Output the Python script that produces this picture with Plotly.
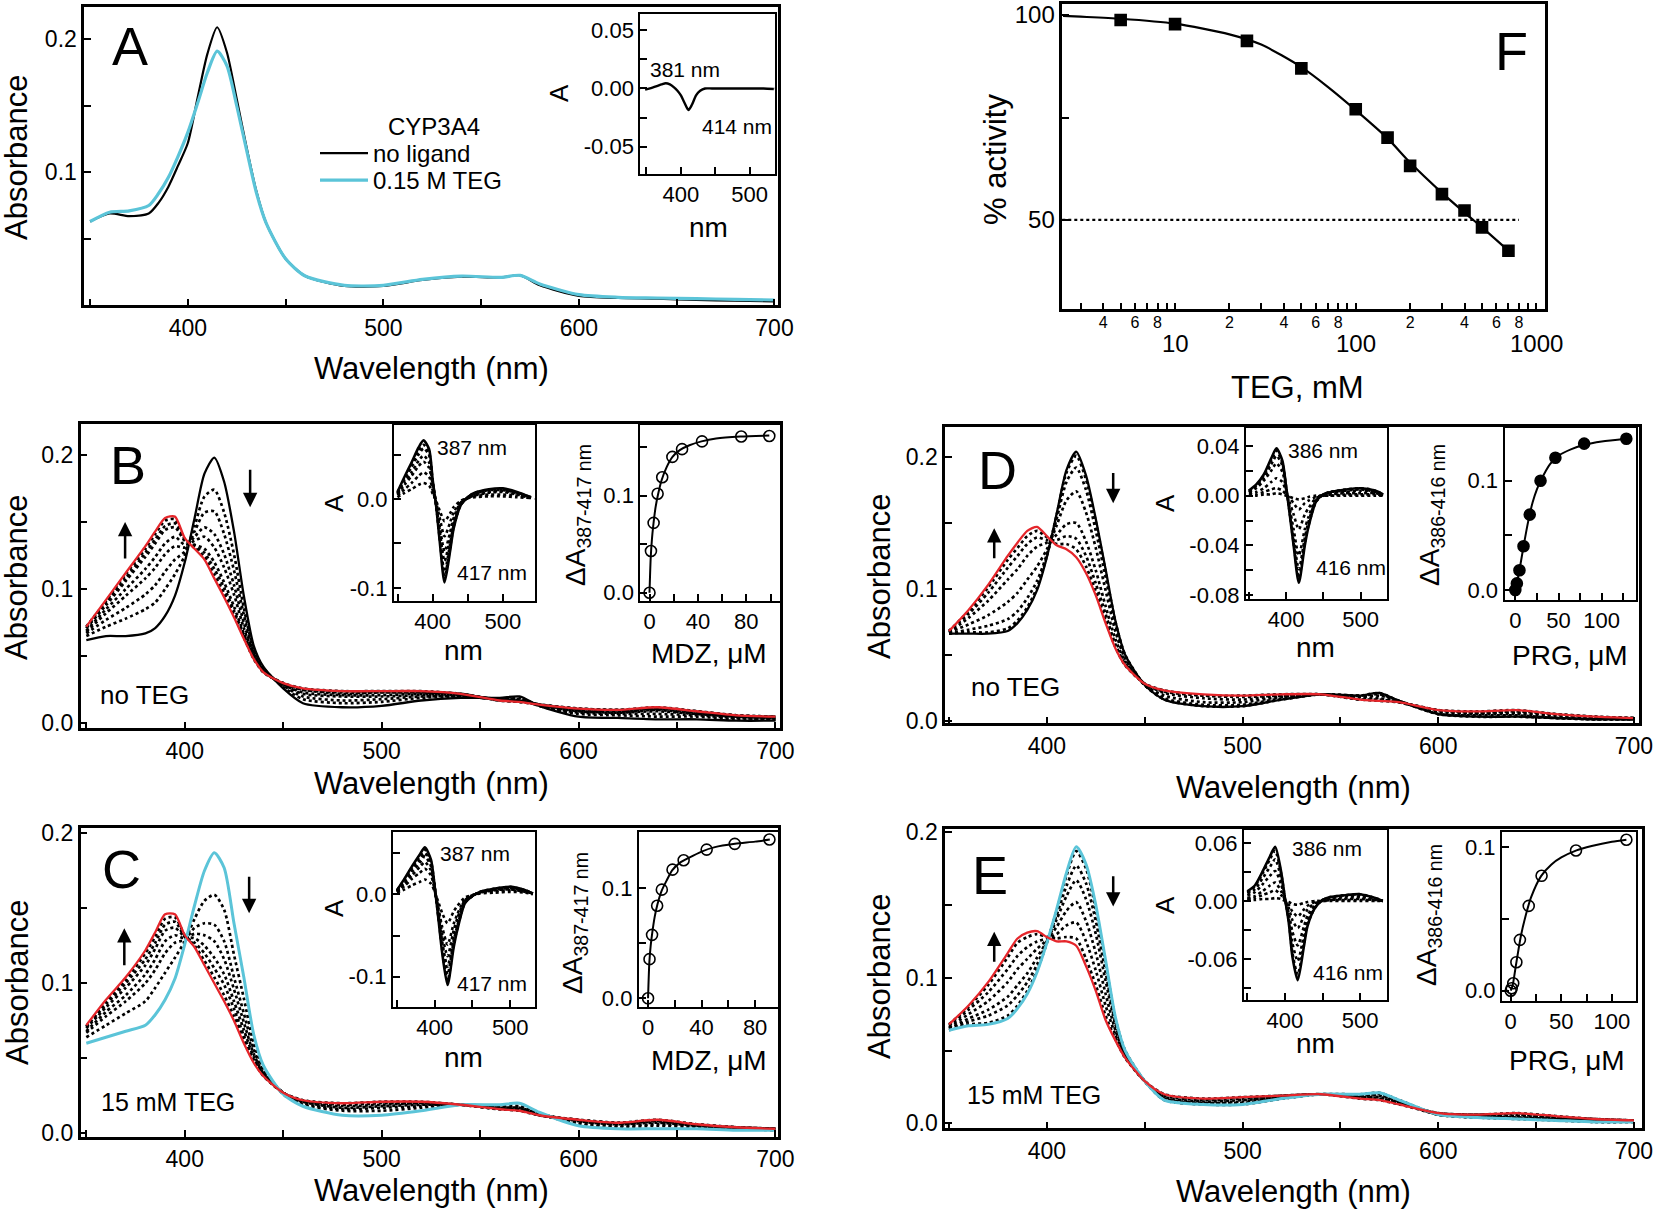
import math
import plotly.graph_objects as go

W, H = 1656, 1215
FONT = "Liberation Sans, Arial, Helvetica, sans-serif"
CYAN = "#5bc4d8"
RED = "#e5262b"

# ---------------- data: wavelength grid for the absolute spectra ----------------
WL = [350, 360, 370, 380, 385, 390, 395, 400, 405, 410, 415, 420, 425, 430, 435, 440,
      450, 460, 480, 500, 520, 540, 560, 570, 580, 600, 620, 640, 660, 680, 700]

# Panel A
A_no_ligand = [.063, .069, .067, .069, .077, .089, .105, .122, .156, .189, .209, .190, .155, .119, .086, .062,
               .035, .022, .0145, .0145, .019, .0215, .021, .0225, .015, .007, .0055, .005, .004, .0035, .003]
A_teg = [.063, .070, .071, .075, .084, .096, .112, .130, .152, .175, .191, .180, .150, .117, .085, .062,
         .035, .022, .015, .015, .0195, .022, .021, .0225, .016, .008, .006, .0055, .005, .0045, .004]
A_inset_wl = [348, 355, 365, 372, 378, 384, 390, 395, 400, 405, 411, 416, 422, 428, 435, 445, 460, 480, 500, 520, 535]
A_inset_dA = [-.001, .000, .002, .0035, .0045, .0035, .001, -.002, -.006, -.012, -.0185, -.014, -.006, -.002,
              .000, .000, .000, .000, .000, .000, -.0005]

# Panel B (no TEG, MDZ titration)
B_start = [.062, .065, .065, .067, .071, .080, .095, .120, .153, .186, .198, .180, .143, .095, .058, .042,
           .026, .015, .012, .013, .017, .019, .019, .020, .013, .005, .004, .003, .003, .002, .002]
B_end = [.072, .092, .112, .132, .143, .153, .154, .138, .130, .122, .108, .094, .079, .063, .048, .038,
         .030, .026, .024, .024, .024, .022, .017, .016, .014, .011, .010, .012, .009, .006, .005]
B_steps = [
    [.065, .072, .078, .085, .090, .100, .111, .125, .147, .169, .174, .157, .126, .086, .055, .041, .027, .018, .015, .016, .019, .020, .018, .019, .013, .007, .006, .005, .005, .003, .003],
    [.067, .077, .086, .096, .103, .113, .122, .128, .143, .157, .158, .141, .114, .081, .054, .040, .028, .020, .017, .018, .020, .020, .018, .018, .013, .008, .007, .007, .006, .004, .003],
    [.068, .082, .095, .108, .116, .126, .132, .131, .139, .146, .141, .126, .103, .075, .052, .039, .029, .022, .020, .020, .021, .021, .018, .017, .014, .009, .008, .009, .007, .005, .004],
    [.069, .085, .100, .115, .124, .134, .139, .133, .136, .139, .131, .116, .096, .071, .051, .039, .029, .023, .021, .021, .022, .021, .018, .017, .014, .009, .008, .010, .007, .005, .004],
    [.071, .088, .106, .124, .134, .144, .146, .136, .133, .130, .120, .105, .087, .067, .049, .039, .029, .025, .022, .023, .023, .022, .017, .017, .014, .010, .009, .011, .008, .005, .005],
    [.071, .090, .108, .127, .137, .147, .149, .137, .132, .127, .115, .101, .084, .066, .049, .038, .030, .025, .023, .023, .023, .022, .017, .016, .014, .011, .010, .011, .009, .006, .005],
    [.072, .091, .111, .130, .141, .151, .152, .137, .131, .124, .111, .097, .081, .064, .048, .038, .030, .026, .024, .024, .024, .022, .017, .016, .014, .011, .010, .012, .009, .006, .005],
]
B_inset_wl = [350, 360, 370, 380, 387, 395, 400, 405, 410, 417, 425, 430, 440, 450, 460, 480, 500, 520, 540]
B_inset_final = [.008, .025, .041, .058, .066, .056, .022, -.008, -.047, -.094, -.058, -.033, -.007, .002, .007, .011, .012, .008, .002]
B_inset_steps = [
    [.002, .007, .011, .016, .018, .015, .006, -.002, -.013, -.025, -.016, -.009, -.002, .001, .002, .003, .003, .002, .001],
    [.004, .011, .018, .026, .030, .025, .010, -.004, -.021, -.042, -.026, -.015, -.003, .001, .003, .005, .005, .004, .001],
    [.005, .016, .026, .037, .042, .035, .014, -.005, -.030, -.059, -.037, -.021, -.004, .001, .004, .007, .008, .005, .001],
    [.006, .019, .030, .043, .049, .041, .016, -.006, -.035, -.070, -.043, -.024, -.005, .001, .005, .008, .009, .006, .001],
    [.007, .022, .036, .050, .057, .049, .019, -.007, -.041, -.082, -.050, -.029, -.006, .002, .006, .010, .010, .007, .002],
    [.007, .023, .038, .054, .061, .052, .020, -.007, -.044, -.087, -.054, -.031, -.007, .002, .007, .010, .011, .007, .002],
]
B_conc = [0, 1.2, 3.4, 6.7, 10.5, 18.9, 26.9, 43.4, 75.8, 99]
B_dA = [0, .043, .072, .102, .119, .140, .148, .156, .161, .1615]
B_fit_x = [0, 1, 2, 3, 5, 7, 10, 14, 19, 25, 33, 43, 55, 75, 99]
B_fit_y = [0, .036, .055, .068, .088, .101, .116, .129, .140, .147, .152, .156, .159, .161, .162]

# Panel C (15 mM TEG, MDZ titration)
C_start = [.060, .064, .068, .072, .079, .089, .103, .126, .152, .175, .187, .177, .140, .104, .066, .045,
           .026, .018, .012, .012, .015, .019, .019, .020, .014, .005, .003, .003, .003, .002, .002]
C_end = [.072, .089, .104, .122, .134, .146, .146, .132, .124, .112, .100, .088, .075, .060, .047, .038,
         .027, .022, .020, .021, .021, .019, .016, .015, .012, .009, .007, .009, .006, .004, .003]
C_steps = [
    [.064, .072, .080, .088, .097, .107, .117, .128, .143, .155, .159, .149, .119, .090, .060, .043, .026, .019, .015, .015, .017, .019, .018, .018, .013, .006, .004, .005, .004, .003, .002],
    [.067, .078, .088, .100, .109, .120, .127, .129, .137, .140, .139, .128, .104, .080, .056, .041, .027, .020, .016, .017, .018, .019, .017, .017, .013, .007, .005, .006, .005, .003, .003],
    [.068, .081, .092, .106, .116, .128, .132, .130, .133, .132, .128, .116, .096, .074, .053, .040, .027, .021, .017, .018, .019, .019, .017, .017, .013, .008, .006, .007, .005, .003, .003],
    [.070, .084, .097, .112, .123, .135, .137, .131, .130, .125, .117, .106, .088, .069, .051, .039, .027, .021, .018, .019, .020, .019, .017, .016, .012, .008, .006, .008, .005, .004, .003],
    [.071, .086, .100, .116, .127, .139, .141, .131, .127, .120, .110, .099, .083, .065, .049, .039, .027, .022, .019, .020, .020, .019, .016, .016, .012, .009, .007, .008, .006, .004, .003],
    [.071, .088, .102, .120, .131, .143, .144, .132, .125, .115, .104, .092, .078, .062, .048, .038, .027, .022, .020, .021, .021, .019, .016, .015, .012, .009, .007, .009, .006, .004, .003],
]
CDE_inset_wl = [350, 360, 370, 380, 387, 395, 400, 405, 410, 417, 425, 430, 440, 450, 460, 480, 500, 520, 530]
C_inset_final = [.005, .019, .034, .048, .057, .042, .009, -.031, -.072, -.110, -.065, -.043, -.011, -.002, .003, .007, .009, .005, .001]
C_inset_steps = [
    [.002, .006, .011, .015, .018, .013, .003, -.010, -.023, -.035, -.021, -.014, -.004, -.001, .001, .002, .003, .002, .000],
    [.003, .010, .019, .026, .031, .023, .005, -.017, -.040, -.061, -.036, -.024, -.006, -.001, .002, .004, .005, .003, .001],
    [.003, .013, .023, .033, .039, .029, .006, -.021, -.049, -.075, -.044, -.029, -.007, -.001, .002, .005, .006, .003, .001],
    [.004, .015, .027, .038, .046, .034, .007, -.025, -.058, -.088, -.052, -.034, -.009, -.002, .002, .006, .007, .004, .001],
    [.004, .017, .030, .042, .050, .037, .008, -.027, -.063, -.097, -.057, -.038, -.010, -.002, .003, .006, .008, .004, .001],
    [.005, .018, .032, .046, .054, .040, .009, -.029, -.068, -.105, -.062, -.041, -.010, -.002, .003, .007, .009, .005, .001],
]
C_conc = [0, 1.1, 3.0, 6.8, 10.3, 18.3, 26.6, 43.8, 64.8, 90.7]
C_dA = [0, .0355, .0575, .0839, .0985, .1166, .1251, .1348, .140, .1439]
C_fit_x = [0, 1, 2, 3, 5, 7, 10, 14, 18, 24, 30, 40, 50, 65, 80, 91]
C_fit_y = [0, .033, .048, .058, .074, .085, .097, .107, .116, .123, .127, .133, .137, .140, .142, .1439]

# Panel D (no TEG, PRG titration)
D_start = [.066, .066, .066, .068, .074, .084, .099, .124, .157, .190, .204, .186, .153, .115, .076, .050,
           .027, .016, .011, .011, .016, .020, .019, .021, .015, .005, .003, .003, .002, .001, .001]
D_end = [.068, .084, .103, .125, .135, .144, .147, .140, .133, .130, .124, .112, .095, .074, .055, .042,
         .028, .023, .020, .019, .020, .020, .016, .015, .014, .008, .007, .008, .005, .003, .002]
D_steps = [
    [.066, .067, .067, .070, .076, .086, .101, .125, .156, .188, .201, .183, .151, .113, .075, .050, .027, .016, .011, .011, .016, .020, .019, .021, .015, .005, .003, .003, .002, .001, .001],
    [.066, .069, .072, .077, .083, .093, .106, .126, .153, .181, .192, .175, .144, .109, .073, .049, .027, .017, .012, .012, .017, .020, .019, .020, .015, .005, .004, .004, .002, .001, .001],
    [.067, .073, .080, .090, .097, .107, .117, .130, .148, .167, .174, .158, .131, .099, .068, .047, .027, .019, .014, .014, .018, .020, .018, .019, .015, .006, .005, .005, .003, .002, .001],
    [.067, .078, .091, .107, .115, .125, .132, .135, .141, .149, .150, .136, .114, .087, .062, .045, .028, .021, .017, .016, .019, .020, .017, .017, .014, .007, .006, .006, .004, .002, .002],
    [.068, .081, .097, .116, .125, .134, .139, .137, .137, .140, .138, .125, .104, .081, .058, .043, .028, .022, .019, .018, .019, .020, .016, .016, .014, .008, .006, .007, .005, .003, .002],
    [.068, .083, .101, .122, .131, .140, .144, .139, .134, .134, .130, .117, .098, .076, .056, .042, .028, .023, .019, .019, .020, .020, .016, .015, .014, .008, .007, .008, .005, .003, .002],
]
D_inset_final = [.004, .009, .017, .030, .038, .028, .007, -.016, -.040, -.070, -.040, -.025, -.005, .001, .003, .005, .006, .004, .001]
D_inset_steps = [
    [.000, .000, .001, .001, .002, .001, .000, -.001, -.002, -.003, -.002, -.001, .000, .000, .000, .000, .000, .000, .000],
    [.001, .001, .003, .005, .006, .004, .001, -.002, -.006, -.011, -.006, -.004, -.001, .000, .000, .001, .001, .001, .000],
    [.002, .003, .006, .011, .014, .011, .003, -.006, -.015, -.027, -.015, -.010, -.002, .000, .001, .002, .002, .002, .000],
    [.003, .006, .012, .020, .026, .019, .005, -.011, -.027, -.048, -.027, -.017, -.003, .001, .002, .003, .004, .003, .001],
    [.003, .008, .014, .025, .032, .024, .006, -.013, -.034, -.059, -.034, -.021, -.004, .001, .003, .004, .005, .003, .001],
    [.004, .008, .016, .028, .036, .026, .007, -.015, -.038, -.066, -.038, -.024, -.005, .001, .003, .005, .006, .004, .001],
]
D_conc = [0, 1.8, 4.8, 9.5, 16.7, 29.2, 46.4, 79.7, 128.5]
D_dA = [0, .006, .018, .040, .069, .100, .121, .134, .1385]
D_fit_x = [0, 2, 5, 10, 15, 20, 25, 30, 40, 50, 65, 80, 100, 128.5]
D_fit_y = [0, .007, .019, .042, .063, .080, .092, .101, .115, .123, .129, .133, .136, .1385]

# Panel E (15 mM TEG, PRG titration)
E_start = [.064, .067, .068, .072, .079, .089, .104, .124, .147, .172, .190, .178, .150, .112, .073, .050,
           .029, .016, .013, .013, .017, .020, .020, .021, .016, .006, .004, .003, .002, .001, .001]
E_end = [.068, .081, .097, .117, .127, .131, .132, .128, .125, .125, .122, .108, .091, .071, .057, .045,
         .029, .020, .017, .018, .019, .020, .017, .016, .013, .007, .006, .007, .005, .003, .002]
E_steps = [
    [.064, .068, .069, .074, .081, .091, .105, .124, .146, .170, .187, .175, .147, .110, .072, .050, .029, .016, .013, .013, .017, .020, .020, .021, .016, .006, .004, .003, .002, .001, .001],
    [.065, .070, .074, .081, .088, .097, .109, .125, .143, .163, .177, .165, .139, .104, .070, .049, .029, .017, .014, .014, .017, .020, .019, .020, .015, .006, .004, .004, .003, .001, .001],
    [.065, .072, .078, .087, .095, .103, .114, .125, .140, .156, .167, .154, .130, .098, .068, .048, .029, .017, .014, .015, .018, .020, .019, .019, .015, .006, .005, .004, .003, .002, .001],
    [.066, .075, .084, .097, .106, .113, .120, .126, .135, .146, .152, .139, .117, .089, .064, .047, .029, .018, .015, .016, .018, .020, .018, .018, .014, .006, .005, .005, .004, .002, .002],
    [.067, .078, .090, .106, .115, .121, .125, .127, .130, .136, .138, .125, .105, .081, .061, .046, .029, .019, .016, .017, .019, .020, .018, .017, .014, .007, .006, .006, .004, .003, .002],
    [.068, .080, .095, .114, .124, .128, .130, .128, .127, .128, .127, .113, .095, .074, .058, .045, .029, .020, .017, .018, .019, .020, .017, .016, .013, .007, .006, .007, .005, .003, .002],
]
E_inset_final = [.010, .016, .030, .046, .056, .030, .003, -.022, -.058, -.082, -.048, -.026, -.007, .001, .004, .006, .007, .003, .000]
E_inset_steps = [
    [.001, .001, .002, .002, .003, .002, .000, -.001, -.003, -.004, -.002, -.001, .000, .000, .000, .000, .000, .000, .000],
    [.002, .003, .006, .009, .011, .006, .001, -.004, -.011, -.016, -.009, -.005, -.001, .000, .001, .001, .001, .001, .000],
    [.003, .005, .010, .016, .019, .010, .001, -.007, -.020, -.028, -.016, -.009, -.002, .000, .001, .002, .002, .001, .000],
    [.006, .009, .017, .026, .031, .017, .002, -.012, -.032, -.046, -.027, -.015, -.004, .001, .002, .003, .004, .002, .000],
    [.008, .012, .023, .035, .043, .023, .002, -.017, -.044, -.062, -.036, -.020, -.005, .001, .003, .005, .005, .002, .000],
    [.009, .015, .028, .043, .052, .028, .003, -.020, -.054, -.076, -.045, -.024, -.007, .001, .004, .006, .007, .003, .000],
]
E_conc = [0, 1.0, 2.5, 5.6, 9.1, 17.8, 30.5, 64.5, 114.3]
E_dA = [0, .0017, .0052, .0199, .0355, .0592, .0802, .0979, .1054]
E_fit_x = [0, 2, 5, 10, 15, 20, 30, 40, 50, 65, 80, 100, 114.3]
E_fit_y = [0, .004, .017, .038, .053, .065, .080, .088, .093, .098, .101, .104, .1054]

# Panel F (% activity vs TEG)
F_teg = [5, 10, 25, 50, 100, 150, 200, 300, 400, 500, 700]
F_act = [98.8, 97.8, 93.7, 87.0, 77.0, 70.1, 63.2, 56.3, 52.3, 48.2, 42.5]
F_fit_x = [2.4, 3, 5, 10, 20, 30, 50, 70, 100, 150, 200, 300, 400, 500, 700]
F_fit_y = [99.8, 99.6, 99.1, 97.9, 95.3, 92.8, 87.3, 82.5, 76.8, 69.9, 64.0, 56.6, 51.8, 48.2, 42.5]

# ---------------- tick labels ----------------
WL_TICKS = [400, 500, 600, 700]
WL_TICKTEXT = ["400", "500", "600", "700"]
WL_MINOR = [350, 450, 550, 650]
ABS_TICKS = [0.0, 0.1, 0.2]
ABS_TICKTEXT = ["0.0", "0.1", "0.2"]
INS_WL_TICKS = [400, 500]
INS_WL_TICKTEXT = ["400", "500"]
F_TICKS = [4, 6, 8, 20, 40, 60, 80, 200, 400, 600, 800]
F_TICKTEXT = ["4", "6", "8", "2", "4", "6", "8", "2", "4", "6", "8"]
F_MINOR = [3, 5, 7, 9, 10, 30, 50, 70, 90, 100, 300, 500, 700, 900, 1000]
F_DECADES = [10, 100, 1000]
F_DECADE_TEXT = ["10", "100", "1000"]

# ---------------- layout helpers ----------------
fig = go.Figure()
layout = dict(width=W, height=H, margin=dict(l=0, r=0, t=0, b=0, pad=0, autoexpand=False),
              autosize=False, paper_bgcolor="white", plot_bgcolor="white", hovermode=False,
              font=dict(family=FONT, color="black", size=22))


def xid(n):
    return "x" if n == 1 else f"x{n}"


def yid(n):
    return "y" if n == 1 else f"y{n}"


def add_axes(n, box, xr, yr, xt, xtt, xm, yt, ytt, ym, lw=2.5, tf=23, xtype="linear", xtf=None,
             xstand=0):
    l, t, r, b = box
    xk = "xaxis" if n == 1 else f"xaxis{n}"
    yk = "yaxis" if n == 1 else f"yaxis{n}"
    common = dict(showline=True, mirror=True, linecolor="black", linewidth=lw, ticks="inside",
                  ticklen=7, tickwidth=2, tickcolor="black", showgrid=False, zeroline=False,
                  fixedrange=True, automargin=False)
    xa = dict(common, domain=[l / W, r / W], range=xr, anchor=yid(n), type=xtype,
              tickmode="array", tickvals=xt, ticktext=xtt, tickfont=dict(size=xtf or tf))
    if xstand:
        xa["ticklabelstandoff"] = xstand
    if xm:
        xa["minor"] = dict(tickmode="array", tickvals=xm, ticks="inside", ticklen=7,
                           tickwidth=2, tickcolor="black", showgrid=False)
    ya = dict(common, domain=[1 - b / H, 1 - t / H], range=yr, anchor=xid(n),
              tickmode="array", tickvals=yt, ticktext=ytt, tickfont=dict(size=tf))
    if ym:
        ya["minor"] = dict(tickmode="array", tickvals=ym, ticks="inside", ticklen=7,
                           tickwidth=2, tickcolor="black", showgrid=False)
    layout[xk] = xa
    layout[yk] = ya


def line(n, x, y, color="black", width=2.2, dash="solid", name=None, legend=None, smooth=0.7):
    kw = dict(showlegend=False)
    if legend:
        kw = dict(showlegend=True, legend=legend)
    fig.add_trace(go.Scatter(x=x, y=y, xaxis=xid(n), yaxis=yid(n), mode="lines", name=name,
                             line=dict(color=color, width=width, dash=dash, shape="spline",
                                       smoothing=smooth),
                             hoverinfo="skip", **kw))


def pts(n, x, y, symbol, size=11):
    fig.add_trace(go.Scatter(x=x, y=y, xaxis=xid(n), yaxis=yid(n), mode="markers",
                             marker=dict(symbol=symbol, size=size, color="black",
                                         line=dict(color="black", width=1.6)),
                             showlegend=False, hoverinfo="skip"))


annotations = []
shapes = []


def txt(text, px, py, size, angle=0, xanchor="center"):
    annotations.append(dict(text=text, x=px / W, y=1 - py / H, xref="paper", yref="paper",
                            showarrow=False, xanchor=xanchor, yanchor="middle",
                            textangle=angle, font=dict(size=size, family=FONT, color="black")))


def arrow(n, x, y_tail, y_tip):
    annotations.append(dict(x=x, y=y_tip, ax=x, ay=y_tail, xref=xid(n), yref=yid(n),
                            axref=xid(n), ayref=yid(n), showarrow=True, arrowhead=2,
                            arrowsize=1.15, arrowwidth=2.5, arrowcolor="black", text=""))


def zero_line(n):
    shapes.append(dict(type="line", xref=f"{xid(n)} domain", yref=yid(n), x0=0, x1=1, y0=0, y1=0,
                       line=dict(color="black", width=2, dash="dot"), layer="below"))


# ---------------- axes ----------------
add_axes(1, (84.2, 7.3, 778, 305.3), [347, 701.8], [0, 0.224], WL_TICKS, WL_TICKTEXT, WL_MINOR,
         [0.1, 0.2], ["0.1", "0.2"], [0.05, 0.15])
add_axes(2, (640.3, 14, 774.5, 174), [341, 536], [-0.0735, 0.064], INS_WL_TICKS, INS_WL_TICKTEXT,
         [350, 450], [-0.05, 0, 0.05], ["-0.05", "0.00", "0.05"], [-0.025, 0.025], lw=2, tf=22)
add_axes(3, (1062.3, 4, 1545.1, 309.3), [0.376, 3.048], [28.2, 102.7], F_TICKS, F_TICKTEXT, F_MINOR,
         [50, 100], ["50", "100"], [75], xtype="log", tf=24, xtf=16, xstand=-3)
# B
add_axes(4, (80.6, 424, 779.6, 728.3), [347.1, 702.1], [-0.0037, 0.223], WL_TICKS, WL_TICKTEXT,
         WL_MINOR, ABS_TICKS, ABS_TICKTEXT, [0.05, 0.15])
add_axes(5, (394, 424.5, 534.5, 600.5), [345, 545], [-0.1143, 0.0839], INS_WL_TICKS, INS_WL_TICKTEXT,
         [350, 450], [-0.1, 0.0], ["-0.1", "0.0"], [-0.05, 0.05], lw=2, tf=22)
add_axes(6, (640.3, 424.5, 779.6, 600.5), [-7.6, 107.5], [-0.008, 0.1734], [0, 40, 80],
         ["0", "40", "80"], [20, 60, 100], [0, 0.1], ["0.0", "0.1"], [0.05, 0.15], lw=2, tf=22)
# D
add_axes(7, (945.1, 426.7, 1639.2, 723.3), [348, 702.7], [-0.002, 0.223], WL_TICKS, WL_TICKTEXT,
         WL_MINOR, ABS_TICKS, ABS_TICKTEXT, [0.05, 0.15])
add_axes(8, (1245.9, 428.3, 1387.3, 599), [346, 535.7], [-0.083, 0.0541], INS_WL_TICKS,
         INS_WL_TICKTEXT, [350, 450], [-0.08, -0.04, 0, 0.04], ["-0.08", "-0.04", "0.00", "0.04"],
         [-0.06, -0.02, 0.02], lw=2, tf=22)
add_axes(9, (1504.5, 428.3, 1636, 600), [-12.5, 139.7], [-0.0092, 0.148], [0, 50, 100],
         ["0", "50", "100"], [25, 75, 125], [0, 0.1], ["0.0", "0.1"], [0.05], lw=2, tf=22)
# C
add_axes(10, (80.6, 828.3, 778, 1136.7), [347.1, 701.3], [-0.0023, 0.2033], WL_TICKS, WL_TICKTEXT,
         WL_MINOR, ABS_TICKS, ABS_TICKTEXT, [0.05, 0.15])
add_axes(11, (392.9, 831.7, 534.7, 1006.7), [344.6, 532.4], [-0.1364, 0.076], INS_WL_TICKS,
         INS_WL_TICKTEXT, [350, 450], [-0.1, 0.0], ["-0.1", "0.0"], [-0.05, 0.05], lw=2, tf=22)
add_axes(12, (638.8, 831.7, 778, 1006.7), [-6.9, 97.1], [-0.0076, 0.151], [0, 40, 80],
         ["0", "40", "80"], [20, 60], [0, 0.1], ["0.0", "0.1"], [0.05], lw=2, tf=22)
# E
add_axes(13, (945.1, 829.3, 1641.8, 1128.3), [348, 704], [-0.0034, 0.202], WL_TICKS, WL_TICKTEXT,
         WL_MINOR, ABS_TICKS, ABS_TICKTEXT, [0.05, 0.15])
add_axes(14, (1244, 829.5, 1386.7, 1000), [345.6, 535.2], [-0.1024, 0.0739], INS_WL_TICKS,
         INS_WL_TICKTEXT, [350, 450], [-0.06, 0, 0.06], ["-0.06", "0.00", "0.06"],
         [-0.09, -0.03, 0.03], lw=2, tf=22)
add_axes(15, (1502, 831.7, 1635.6, 1001), [-8.6, 123.4], [-0.0072, 0.111], [0, 50, 100],
         ["0", "50", "100"], [25, 75], [0, 0.1], ["0.0", "0.1"], [0.05], lw=2, tf=22)

# ---------------- traces ----------------
line(1, WL, A_no_ligand, "black", 2.2, name="no ligand", legend="legend")
line(1, WL, A_teg, CYAN, 3.2, name="0.15 M TEG", legend="legend2")
zero_line(2)
line(2, A_inset_wl, A_inset_dA, "black", 2.4)

shapes.append(dict(type="line", xref="x3 domain", yref="y3", x0=0, x1=0.946, y0=50, y1=50,
                   line=dict(color="black", width=2.2, dash="dot"), layer="below"))
line(3, F_fit_x, F_fit_y, "black", 2.2)
pts(3, F_teg, F_act, "square", 11)


def titration(nm, ni, nb, start, start_color, steps, end, ins_wl, ins_steps, ins_final,
              conc, dA, fit_x, fit_y, symbol):
    for s in steps:
        line(nm, WL, s, "black", 2.7, "dot")
    line(nm, WL, start, start_color, 2.3 if start_color == "black" else 3.0)
    line(nm, WL, end, RED, 2.3)
    zero_line(ni)
    for s in ins_steps:
        line(ni, ins_wl, s, "black", 2.6, "dot")
    line(ni, ins_wl, ins_final, "black", 2.6)
    line(nb, fit_x, fit_y, "black", 2.0)
    pts(nb, conc, dA, symbol, 11)


titration(4, 5, 6, B_start, "black", B_steps, B_end, B_inset_wl, B_inset_steps, B_inset_final,
          B_conc, B_dA, B_fit_x, B_fit_y, "circle-open")
titration(7, 8, 9, D_start, "black", D_steps, D_end, CDE_inset_wl, D_inset_steps, D_inset_final,
          D_conc, D_dA, D_fit_x, D_fit_y, "circle")
titration(10, 11, 12, C_start, CYAN, C_steps, C_end, CDE_inset_wl, C_inset_steps, C_inset_final,
          C_conc, C_dA, C_fit_x, C_fit_y, "circle-open")
titration(13, 14, 15, E_start, CYAN, E_steps, E_end, CDE_inset_wl, E_inset_steps, E_inset_final,
          E_conc, E_dA, E_fit_x, E_fit_y, "circle-open")

# ---------------- arrows ----------------
arrow(4, 369.7, 0.1217, 0.150)
arrow(4, 433.2, 0.190, 0.161)
arrow(7, 373.1, 0.122, 0.146)
arrow(7, 433.9, 0.189, 0.165)
arrow(10, 369.3, 0.111, 0.1367)
arrow(10, 432.7, 0.172, 0.1467)
arrow(13, 373.1, 0.110, 0.1317)
arrow(13, 433.9, 0.1707, 0.1489)

# ---------------- text ----------------
WLT = "Wavelength (nm)"
ABT = "Absorbance"
txt("A", 130, 46, 54)
txt("CYP3A4", 434, 126, 24)
txt(WLT, 431, 368, 31)
txt(ABT, 17, 158, 31, -90)
txt("nm", 708, 227, 28)
txt("A", 559, 93, 26, -90)
txt("381 nm", 685, 69, 21)
txt("414 nm", 737, 126, 21)

txt("F", 1511, 51, 54)
txt("TEG, mM", 1297, 387, 31)
txt("% activity", 995, 160, 31, -90)
for v, t in zip(F_DECADES, F_DECADE_TEXT):
    annotations.append(dict(text=t, x=math.log10(v), y=1 - 343 / H, xref="x3", yref="paper",
                            showarrow=False, xanchor="center", yanchor="middle",
                            font=dict(size=24, family=FONT, color="black")))

txt("B", 128, 465, 54)
txt("no TEG", 144, 695, 26)
txt(WLT, 431, 783, 31)
txt(ABT, 17, 578, 31, -90)
txt("nm", 463, 650, 28)
txt("A", 334, 503, 26, -90)
txt("387 nm", 472, 447, 21)
txt("417 nm", 492, 572, 21)
txt("MDZ, μM", 709, 653, 28)
txt("ΔA<sub>387-417 nm</sub>", 577, 515, 28, -90)

txt("C", 122, 869, 54)
txt("15 mM TEG", 168, 1102, 25)
txt(WLT, 431, 1190, 31)
txt(ABT, 17, 983, 31, -90)
txt("nm", 463, 1057, 28)
txt("A", 334, 908, 26, -90)
txt("387 nm", 475, 853, 21)
txt("417 nm", 492, 983, 21)
txt("MDZ, μM", 709, 1060, 28)
txt("ΔA<sub>387-417 nm</sub>", 574, 923, 28, -90)

txt("D", 997, 470, 54)
txt("no TEG", 1016, 687, 26)
txt(WLT, 1293, 787, 31)
txt(ABT, 879, 577, 31, -90)
txt("nm", 1315, 647, 28)
txt("A", 1165, 503, 26, -90)
txt("386 nm", 1323, 451, 21)
txt("416 nm", 1351, 567, 21)
txt("PRG, μM", 1570, 655, 28)
txt("ΔA<sub>386-416 nm</sub>", 1431, 515, 28, -90)

txt("E", 990, 875, 54)
txt("15 mM TEG", 1034, 1095, 25)
txt(WLT, 1293, 1191, 31)
txt(ABT, 879, 977, 31, -90)
txt("nm", 1315, 1043, 28)
txt("A", 1165, 905, 26, -90)
txt("386 nm", 1327, 848, 21)
txt("416 nm", 1348, 972, 21)
txt("PRG, μM", 1567, 1060, 28)
txt("ΔA<sub>386-416 nm</sub>", 1428, 915, 28, -90)

layout["annotations"] = annotations
layout["shapes"] = shapes
layout["showlegend"] = True
leg_common = dict(xanchor="left", yanchor="top", bgcolor="rgba(0,0,0,0)", borderwidth=0,
                  font=dict(size=24, family=FONT), tracegroupgap=0, itemwidth=48)
layout["legend"] = dict(leg_common, x=315 / W, y=1 - 131 / H)
layout["legend2"] = dict(leg_common, x=315 / W, y=1 - 158 / H)
fig.update_layout(**layout)
fig.write_html("out.html", config={"displayModeBar": False})
